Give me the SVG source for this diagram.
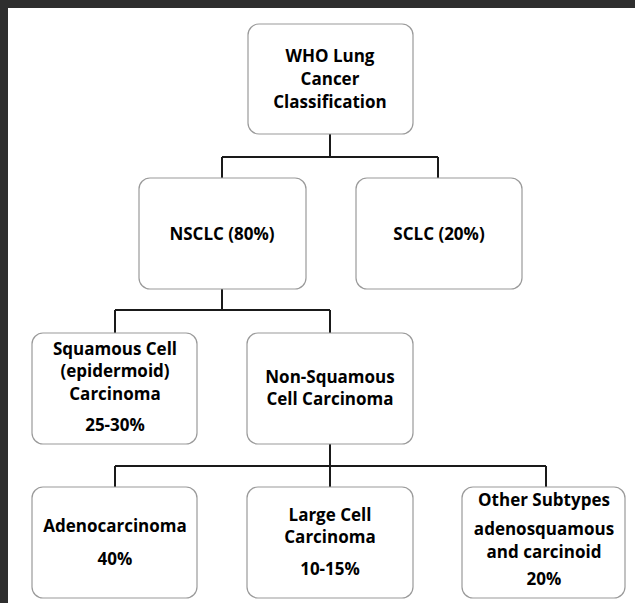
<svg xmlns="http://www.w3.org/2000/svg" width="635" height="603" viewBox="0 0 635 603">
  <style>
    .box { fill: #ffffff; stroke: #9a9a9a; stroke-width: 1.2; }
    .t { font-family: "Open Sans", "Liberation Sans", sans-serif; font-weight: bold; font-size: 17px; fill: #000000; text-anchor: middle; }
    .conn { fill: none; stroke: #1a1a1a; stroke-width: 2; }
  </style>
  <rect x="0" y="0" width="635" height="603" fill="#2e2e2e"/>
  <rect x="8" y="8" width="627" height="595" fill="#ffffff"/>

  <g id="connectors">
    <path class="conn" d="M330 134 V157 M222 157 H438 M222 157 V178 M438 157 V178"/>
    <path class="conn" d="M222 289 V310 M115 310 H330 M115 310 V333 M330 310 V333"/>
    <path class="conn" d="M330 444 V466 M115 466 H546 M115 466 V487 M330 466 V487 M546 466 V487"/>
  </g>

  <g id="who">
    <rect class="box" x="248" y="24" width="165" height="110" rx="11"/>
    <text class="t" x="330" y="62">WHO Lung</text>
    <text class="t" x="330" y="85">Cancer</text>
    <text class="t" x="330" y="108">Classification</text>
  </g>
  <g id="nsclc">
    <rect class="box" x="139" y="178" width="167" height="111" rx="11"/>
    <text class="t" x="222" y="240">NSCLC (80%)</text>
  </g>
  <g id="sclc">
    <rect class="box" x="356" y="178" width="166" height="111" rx="11"/>
    <text class="t" x="439" y="240">SCLC (20%)</text>
  </g>
  <g id="squamous">
    <rect class="box" x="32" y="333" width="165" height="111" rx="11"/>
    <text class="t" x="115" y="355">Squamous Cell</text>
    <text class="t" x="115" y="377">(epidermoid)</text>
    <text class="t" x="115" y="400">Carcinoma</text>
    <text class="t" x="115" y="431">25-30%</text>
  </g>
  <g id="nonsquamous">
    <rect class="box" x="247" y="333" width="166" height="111" rx="11"/>
    <text class="t" x="330" y="383">Non-Squamous</text>
    <text class="t" x="330" y="405">Cell Carcinoma</text>
  </g>
  <g id="adeno">
    <rect class="box" x="32" y="487" width="165" height="111" rx="11"/>
    <text class="t" x="115" y="532">Adenocarcinoma</text>
    <text class="t" x="115" y="565">40%</text>
  </g>
  <g id="largecell">
    <rect class="box" x="247" y="487" width="166" height="111" rx="11"/>
    <text class="t" x="330" y="521">Large Cell</text>
    <text class="t" x="330" y="543">Carcinoma</text>
    <text class="t" x="330" y="575">10-15%</text>
  </g>
  <g id="other">
    <rect class="box" x="462" y="487" width="163" height="111" rx="11"/>
    <text class="t" x="544" y="506">Other Subtypes</text>
    <text class="t" x="544" y="535">adenosquamous</text>
    <text class="t" x="544" y="558">and carcinoid</text>
    <text class="t" x="544" y="585">20%</text>
  </g>
</svg>
